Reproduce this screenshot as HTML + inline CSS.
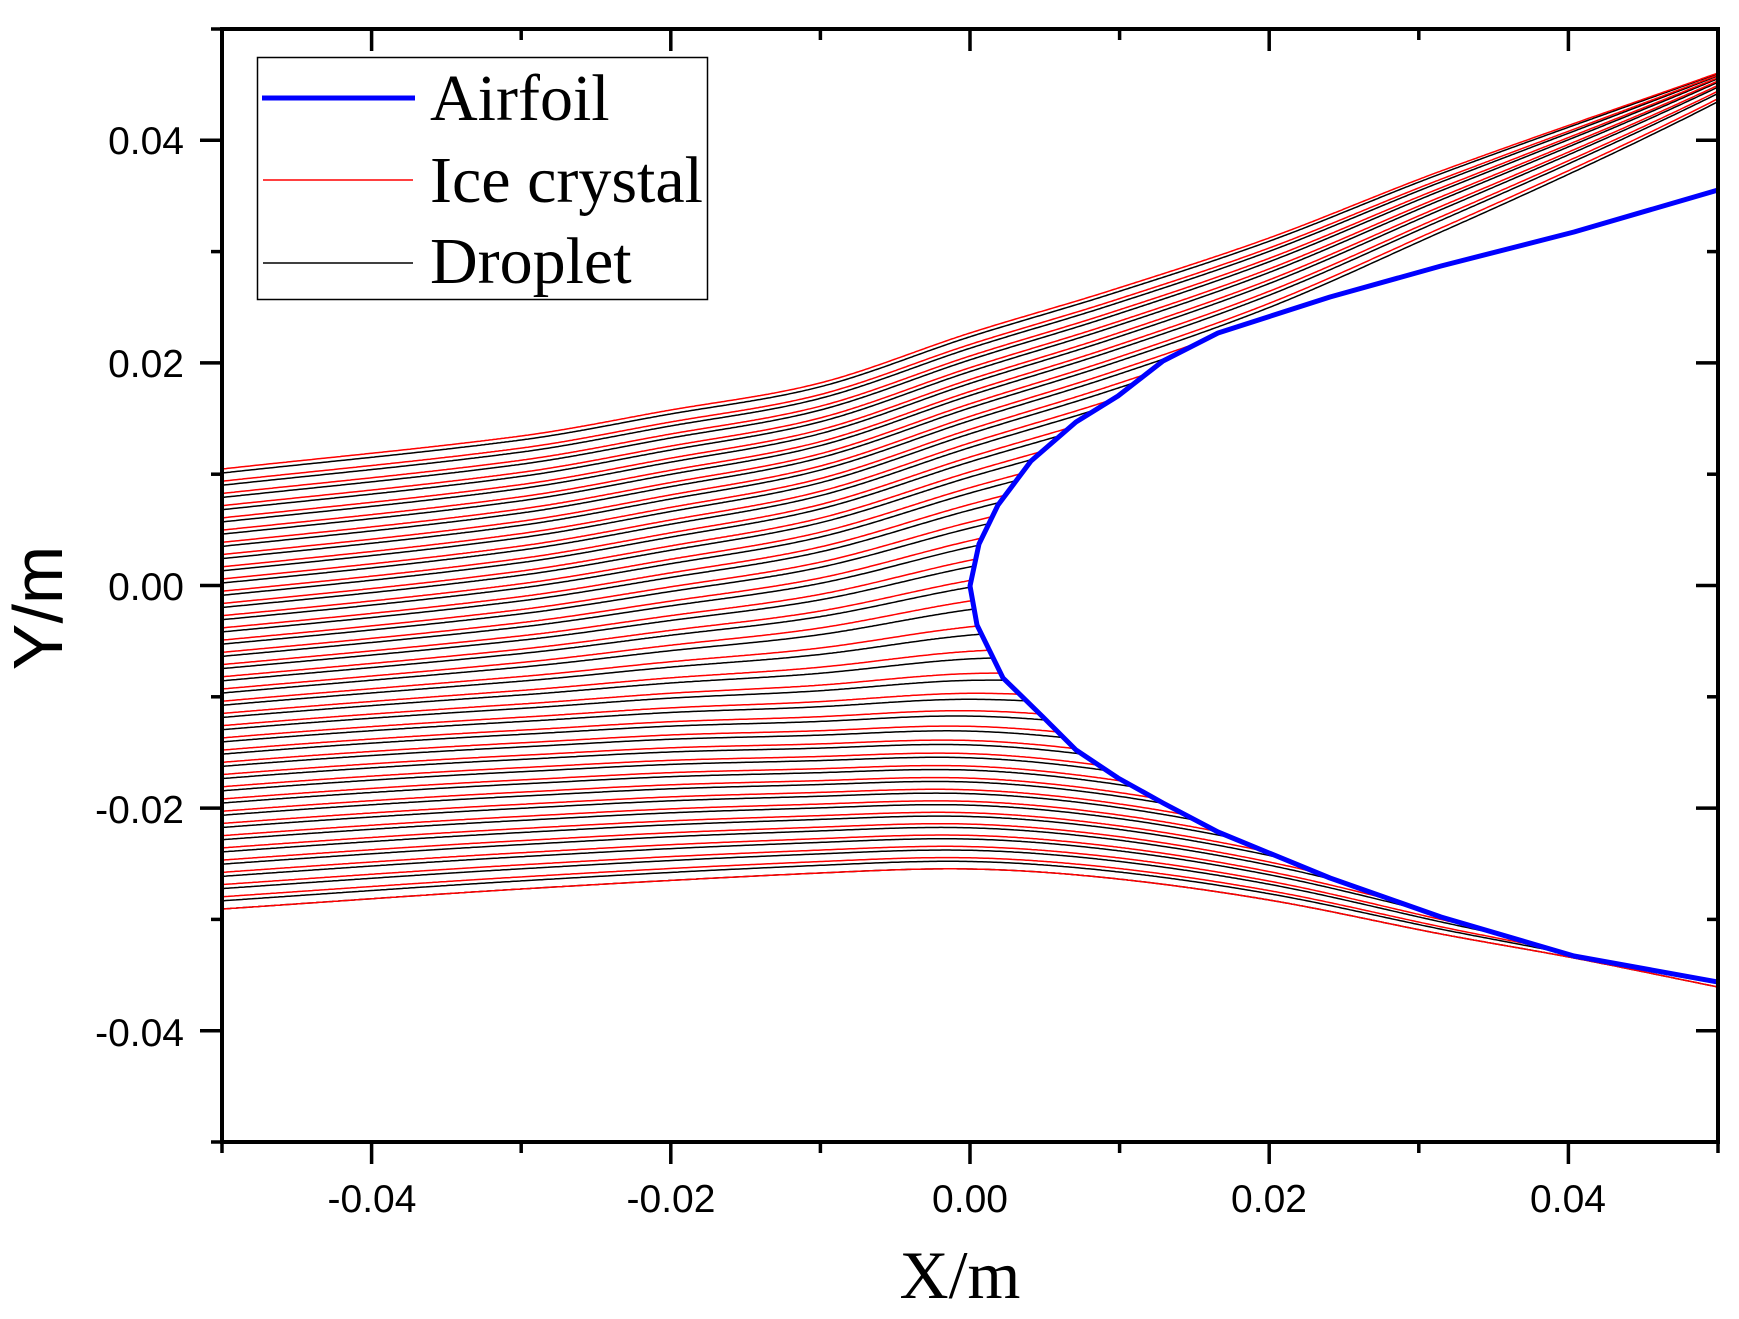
<!DOCTYPE html>
<html><head><meta charset="utf-8"><style>
html,body{margin:0;padding:0;background:#fff;}
svg{display:block;}
</style></head><body>
<svg id="s" width="1739" height="1319" viewBox="0 0 1739 1319" xmlns="http://www.w3.org/2000/svg">
<defs><clipPath id="cp"><rect x="222" y="29" width="1496" height="1113"/></clipPath></defs>
<rect width="1739" height="1319" fill="#fff"/>
<g id="lines" clip-path="url(#cp)"></g>
<polyline id="foil" fill="none" stroke="#0000ff" stroke-width="5" stroke-linejoin="round" clip-path="url(#cp)" points=""/>
<g stroke="#000" stroke-width="3.5">
<rect x="222" y="29" width="1496" height="1113" fill="none" stroke-width="4"/>
<g id="ticks"></g>
</g>
<g font-family="Liberation Sans, Arial, sans-serif" font-size="39" fill="#000">
<text x="184" y="154" text-anchor="end">0.04</text>
<text x="184" y="377" text-anchor="end">0.02</text>
<text x="184" y="600" text-anchor="end">0.00</text>
<text x="184" y="823" text-anchor="end">-0.02</text>
<text x="184" y="1046" text-anchor="end">-0.04</text>
<text x="372" y="1212" text-anchor="middle">-0.04</text>
<text x="671" y="1212" text-anchor="middle">-0.02</text>
<text x="970" y="1212" text-anchor="middle">0.00</text>
<text x="1269" y="1212" text-anchor="middle">0.02</text>
<text x="1568" y="1212" text-anchor="middle">0.04</text>
<text transform="translate(62,608) rotate(-90)" text-anchor="middle" font-size="70">Y/m</text>
</g>
<text x="960" y="1298" text-anchor="middle" font-family="Liberation Serif, Times New Roman, serif" font-size="68">X/m</text>
<rect x="257.5" y="57.5" width="450" height="242" fill="#fff" stroke="#000" stroke-width="1.5"/>
<line x1="262" y1="98" x2="415" y2="98" stroke="#0000ff" stroke-width="5"/>
<line x1="263" y1="180" x2="413" y2="180" stroke="#ff0000" stroke-width="1.5"/>
<line x1="263" y1="263" x2="413" y2="263" stroke="#000" stroke-width="1.5"/>
<g font-family="Liberation Serif, Times New Roman, serif" font-size="66" fill="#000">
<text x="430" y="120">Airfoil</text>
<text x="430" y="202">Ice crystal</text>
<text x="430" y="283">Droplet</text>
</g>
</svg>
<script>
(function(){
var NS="http://www.w3.org/2000/svg";
var up=[[970,586],[979,544],[998,505],[1031,461],[1076,422],[1118,396],[1163,361],[1218,333],[1330,297],[1441,266],[1574,232],[1718,190],[1730,188]];
var lo=[[970,586],[977,625],[1003,678],[1043,717],[1076,750],[1118,778],[1163,803],[1218,832],[1330,878],[1441,917],[1574,956],[1718,982],[1730,984]];
var top=[[222,469],[521,436],[665,411],[820,383],[970,333],[1109,291],[1269,238],[1441,171],[1718,73]];
var bot=[[222,909],[521,889],[820,873],[970,869],[1109,878],[1269,900],[1441,934],[1574,958],[1718,987]];
function interp(a,X){for(var i=0;i<a.length-1;i++){if(X<=a[i+1][0]){var t=(X-a[i][0])/(a[i+1][0]-a[i][0]);return a[i][1]+t*(a[i+1][1]-a[i][1]);}}return a[a.length-1][1];}
function smooth(a,X){
 var n=a.length;
 for(var i=0;i<n-1;i++){
  if(X<=a[i+1][0]||i==n-2){
   var x0=a[i][0],x1=a[i+1][0],y0=a[i][1],y1=a[i+1][1],h=x1-x0;
   var p=a[Math.max(0,i-1)],q=a[Math.min(n-1,i+2)];
   var m0=(y1-p[1])/(x1-p[0])*h, m1=(q[1]-y0)/(q[0]-x0)*h;
   var t=(X-x0)/h,t2=t*t,t3=t2*t;
   return (2*t3-3*t2+1)*y0+(t3-2*t2+t)*m0+(-2*t3+3*t2)*y1+(t3-t2)*m1;
  }
 }
}
var pts=[];for(var i=up.length-1;i>=0;i--)pts.push(up[i].join(','));for(var i=1;i<lo.length;i++)pts.push(lo[i].join(','));
document.getElementById('foil').setAttribute('points',pts.join(' '));
function wr(s){var u=2*s-1;var K=u>0?2.5:4;return 0.5+0.5*Math.tanh(K*u)/Math.tanh(K);}
var g=document.getElementById('lines');
var N=37;
function line(s,col){
 var d=[];
 for(var X=222;X<=1722;X+=2){
  var f=(X-222)/1496;
  var b=f*f;
  var w=(1-b)*s+b*wr(s);
  var yb=smooth(bot,X),yt=smooth(top,X);
  var Y=yb+w*(yt-yb);
  d.push(X+','+Y.toFixed(1));
  if(X>970){var a=interp(up,X),c=interp(lo,X);if(Y>a&&Y<c)break;}
 }
 var p=document.createElementNS(NS,'polyline');
 p.setAttribute('points',d.join(' '));p.setAttribute('fill','none');
 p.setAttribute('stroke',col);p.setAttribute('stroke-width','1.5');
 g.appendChild(p);
}
for(var i=0;i<N;i++){
 var s=1-i/(N-1);
 line(Math.max(0,s-0.33/(N-1)),'#000');
 line(s,'#ff0000');
}
var t=document.getElementById('ticks');
function L(x1,y1,x2,y2){var l=document.createElementNS(NS,'line');l.setAttribute('x1',x1);l.setAttribute('y1',y1);l.setAttribute('x2',x2);l.setAttribute('y2',y2);t.appendChild(l);}
for(var k=-5;k<=5;k++){
 var maj=(k%2===0);var len=maj?22:11;
 var X=222+(k/100+0.05)*14960;
 var Y=585.5-(k/100)*11130;
 L(X,1142,X,1142+len); L(X,29,X,29+len);
 L(222,Y,222-len,Y); L(1718,Y,1718-len,Y);
}
})();
</script>
</body></html>
